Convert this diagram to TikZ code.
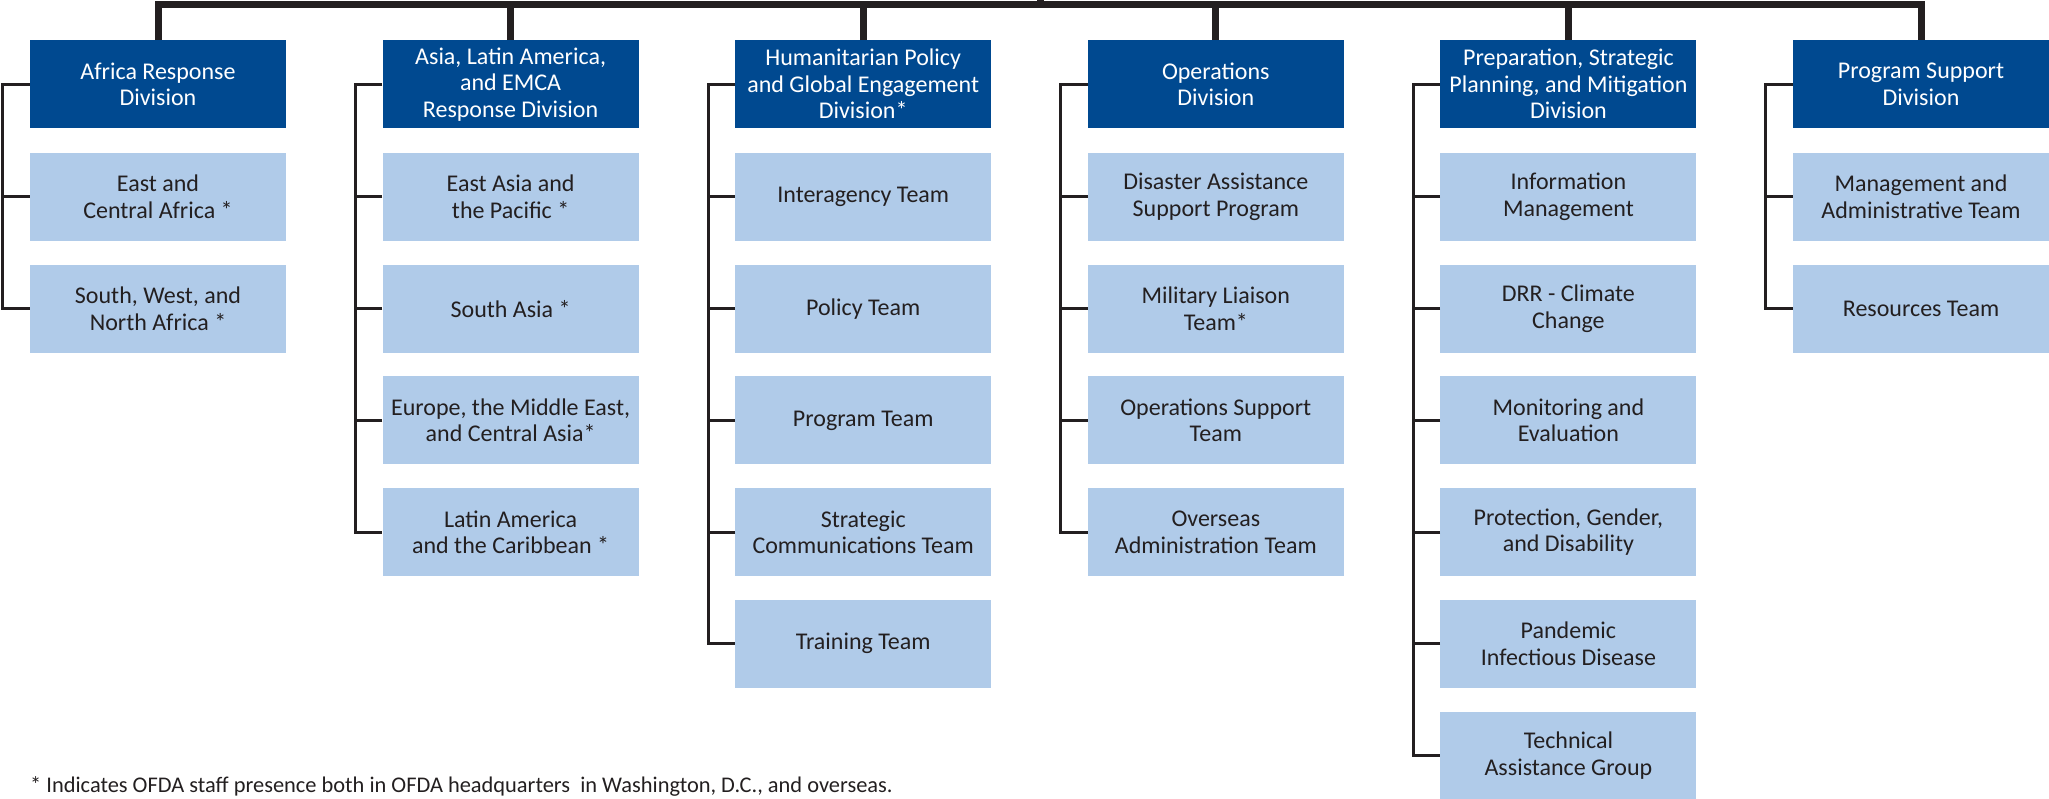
\documentclass[tikz,border=0pt]{standalone}
\usepackage{fontspec}
\setmainfont{Carlito}
\usetikzlibrary{calc}
\definecolor{dblue}{RGB}{0,73,144}
\definecolor{lblue}{RGB}{176,203,233}
\definecolor{ink}{RGB}{35,31,32}
\begin{document}
\begin{tikzpicture}[x=1pt,y=-1pt,
  boxfont/.style={font=\fontsize{24}{26.5}\selectfont},
  divbox/.style={fill=dblue,text=white,minimum width=256pt,minimum height=88pt,inner sep=0pt,align=center,boxfont},
  teambox/.style={fill=lblue,text=ink,minimum width=256pt,minimum height=88pt,inner sep=0pt,align=center,boxfont},
  thickline/.style={draw=ink,line width=7pt},
  thinline/.style={draw=ink,line width=3pt}]
\useasboundingbox (0,0) rectangle (2049,799);

% division boxes
\node[divbox] (d1) at (158,84.25) {Africa Response\\Division};
\node[divbox] (d2) at (510.6,84.25) {Asia, Latin America,\\and EMCA\\Response Division};
\node[divbox] (d3) at (863.2,84.25) {Humanitarian Policy\\and Global Engagement\\Division*};
\node[divbox] (d4) at (1215.8,84.25) {Operations\\Division};
\node[divbox] (d5) at (1568.4,84.25) {Preparation, Strategic\\Planning, and Mitigation\\Division};
\node[divbox] (d6) at (1921,84.25) {Program Support\\Division};

% column 1
\node[teambox] (t1-1) at (158,197) {East and\\Central Africa *};
\node[teambox] (t1-2) at (158,308.7) {South, West, and\\North Africa *};
% column 2
\node[teambox] (t2-1) at (510.6,197) {East Asia and\\the Pacific *};
\node[teambox] (t2-2) at (510.6,308.7) {South Asia *};
\node[teambox] (t2-3) at (510.6,420.4) {Europe, the Middle East,\\and Central Asia*};
\node[teambox] (t2-4) at (510.6,532.1) {Latin America\\and the Caribbean *};
% column 3
\node[teambox] (t3-1) at (863.2,197) {Interagency Team};
\node[teambox] (t3-2) at (863.2,308.7) {Policy Team};
\node[teambox] (t3-3) at (863.2,420.4) {Program Team};
\node[teambox] (t3-4) at (863.2,532.1) {Strategic\\Communications Team};
\node[teambox] (t3-5) at (863.2,643.8) {Training Team};
% column 4
\node[teambox] (t4-1) at (1215.8,197) {Disaster Assistance\\Support Program};
\node[teambox] (t4-2) at (1215.8,308.7) {Military Liaison\\Team*};
\node[teambox] (t4-3) at (1215.8,420.4) {Operations Support\\Team};
\node[teambox] (t4-4) at (1215.8,532.1) {Overseas\\Administration Team};
% column 5
\node[teambox] (t5-1) at (1568.4,197) {Information\\Management};
\node[teambox] (t5-2) at (1568.4,308.7) {DRR - Climate\\Change};
\node[teambox] (t5-3) at (1568.4,420.4) {Monitoring and\\Evaluation};
\node[teambox] (t5-4) at (1568.4,532.1) {Protection, Gender,\\and Disability};
\node[teambox] (t5-5) at (1568.4,643.8) {Pandemic\\Infectious Disease};
\node[teambox] (t5-6) at (1568.4,755.5) {Technical\\Assistance Group};
% column 6
\node[teambox] (t6-1) at (1921,197) {Management and\\Administrative Team};
\node[teambox] (t6-2) at (1921,308.7) {Resources Team};

% footnote
\node[anchor=base west,inner sep=0pt,text=ink,font=\fontsize{22.4}{24}\selectfont] (note) at (30,792)
  {* Indicates OFDA staff presence both in OFDA headquarters\ \ in Washington, D.C., and overseas.};

% top bar
\coordinate (root) at (1040,0);
\coordinate (bar) at (1040,4.5);
\draw[thickline] (d1.north) -- (d1.north |- bar) -- (d6.north |- bar) -- (d6.north);
\foreach \d in {d2,d3,d4,d5} \draw[thickline] (\d.north) -- (\d.north |- bar);
\draw[thickline] (root) -- (bar);

% brackets
\draw[thinline] (d1.west) -- ++(-27,0) coordinate (b1) |- (t1-2.west);
\draw[thinline] (t1-1.west) -- (t1-1.west -| b1);

\draw[thinline] (d2.west) -- ++(-27,0) coordinate (b2) |- (t2-4.west);
\foreach \k in {1,2,3} \draw[thinline] (t2-\k.west) -- (t2-\k.west -| b2);

\draw[thinline] (d3.west) -- ++(-27,0) coordinate (b3) |- (t3-5.west);
\foreach \k in {1,2,3,4} \draw[thinline] (t3-\k.west) -- (t3-\k.west -| b3);

\draw[thinline] (d4.west) -- ++(-27,0) coordinate (b4) |- (t4-4.west);
\foreach \k in {1,2,3} \draw[thinline] (t4-\k.west) -- (t4-\k.west -| b4);

\draw[thinline] (d5.west) -- ++(-27,0) coordinate (b5) |- (t5-6.west);
\foreach \k in {1,2,3,4,5} \draw[thinline] (t5-\k.west) -- (t5-\k.west -| b5);

\draw[thinline] (d6.west) -- ++(-27,0) coordinate (b6) |- (t6-2.west);
\draw[thinline] (t6-1.west) -- (t6-1.west -| b6);
\end{tikzpicture}
\end{document}
